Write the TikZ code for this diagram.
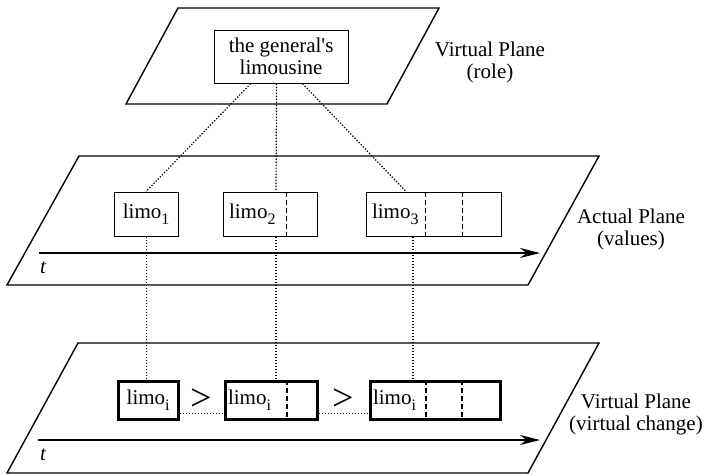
\documentclass[tikz,border=0pt]{standalone}
\usepackage{fontspec}
\setmainfont{Liberation Serif}[Ligatures=TeXOff]
\usetikzlibrary{positioning,calc,arrows.meta}
\tikzset{>={Stealth[length=20pt,width=10pt]}}
\tikzset{
  plane/.style={line width=1.4pt, line join=miter},
  cell/.style={draw, line width=1.2pt, inner sep=0pt, anchor=north west},
  vcell/.style={cell, line width=3.4pt},
  divider/.style={line width=1.2pt, dash pattern=on 5pt off 3pt},
  link/.style={line width=1.2pt, dash pattern=on 1.3pt off 1.7pt},
  tag/.style={font=\fontsize{21}{22}\selectfont, align=center, inner sep=0pt},
  word/.style={font=\fontsize{21}{22}\selectfont},
  order/.style={font=\fontsize{38}{38}\selectfont, inner sep=0pt},
  timeaxis/.style={->, line width=1.4pt},
}
\newcommand*{\limo}[1]{limo\raisebox{-6pt}{\fontsize{16}{16}\selectfont #1}}

\begin{document}
\begin{tikzpicture}[x=1pt,y=-1pt]
\useasboundingbox (0,0) rectangle (707,475);

% Draw the three planes
\draw[plane] (178,8) -- (439,8) -- (387,104) -- (126,104) -- cycle;
\draw[plane] (79,156) -- (599,156) -- (528,285) -- (7,285) -- cycle;
\draw[plane] (78,343) -- (599,343) -- (528,473) -- (7,473) -- cycle;

% Plane labels
\node[tag] (lrole) at (490,62) {Virtual Plane\\(role)};
\node[tag] (lvalues) at (631,229) {Actual Plane\\(values)};
\node[tag] (lchange) at (636,414) {Virtual Plane\\(virtual change)};

% Role box
\node[cell, minimum width=134pt, minimum height=53pt, word, align=center] (gen) at (213.5,29.5) {the general's\\limousine};

% Value boxes on the actual plane
\node[cell, minimum width=64pt, minimum height=44pt] (v1) at (113.5,191.5) {};
\node[cell, minimum width=94pt, minimum height=44pt] (v2) at (222.5,191.5) {};
\node[cell, minimum width=135pt, minimum height=44pt] (v3) at (365.5,191.5) {};
\node[word] (t1) at (v1.center) {\limo{1}};
\node[word, anchor=west] (t2) at ($(v2.west)+(3,0)$) {\limo{2}};
\node[word, anchor=west] (t3) at ($(v3.west)+(3,0)$) {\limo{3}};
\draw[divider] ($(v2.north west)+(64,0)$) -- ($(v2.south west)+(64,0)$);
\draw[divider] ($(v3.north west)+(60,0)$) -- ($(v3.south west)+(60,0)$);
\draw[divider] ($(v3.north west)+(97,0)$) -- ($(v3.south west)+(97,0)$);

% Boxes on the virtual change plane
\node[vcell, minimum width=60pt, minimum height=38pt] (w1) at (116.5,379.5) {};
\node[vcell, minimum width=92pt, minimum height=38pt] (w2) at (223.5,379.5) {};
\node[vcell, minimum width=130pt, minimum height=38pt] (w3) at (368.5,379.5) {};
\node[word] (s1) at (w1.center) {\limo{i}};
\node[word, anchor=west] (s2) at ($(w2.west)+(1,0)$) {\limo{i}};
\node[word, anchor=west] (s3) at ($(w3.west)+(1,0)$) {\limo{i}};
\draw[divider] ($(w2.north west)+(63.5,0)$) -- ($(w2.south west)+(63.5,0)$);
\draw[divider] ($(w3.north west)+(57.5,0)$) -- ($(w3.south west)+(57.5,0)$);
\draw[divider] ($(w3.north west)+(93.5,0)$) -- ($(w3.south west)+(93.5,0)$);

% Order signs and dotted joins between them
\node[order] (gt1) at ($(w1.east)!0.5!(w2.west)+(0,-1)$) {>};
\node[order] (gt2) at ($(w2.east)!0.5!(w3.west)+(0,-1)$) {>};
\draw[link] ([yshift=-13.5pt]w1.east) -- ([yshift=-13.5pt]w2.west);
\draw[link] ([yshift=-13.5pt]w2.east) -- ([yshift=-13.5pt]w3.west);

% Dotted links from the role down to the values
\draw[link] ($(gen.south)+(-30.5,0)$) -- (v1.north);
\draw[link] ($(gen.south)+(-4.5,0)$) -- ($(v2.north west)+(53.5,0)$);
\draw[link] ($(gen.south)+(21.5,0)$) -- ($(v3.north west)+(40.5,0)$);

% Dotted links from the values down to the virtual change
\draw[link] (v1.south) -- (v1.south |- w1.north);
\draw[link] ($(v2.south west)+(53.5,0)$) coordinate (d2) -- (d2 |- w2.north);
\draw[link] ($(v3.south west)+(47.5,0)$) coordinate (d3) -- (d3 |- w3.north);

% Time axes
\draw[timeaxis] (39,253) coordinate (a0) -- (540,253) coordinate (a1);
\node[word, font=\itshape\fontsize{21}{22}\selectfont] (tm) at (43,268) {t};
\draw[timeaxis] (38,440) coordinate (b0) -- (540,440) coordinate (b1);
\node[word, font=\itshape\fontsize{21}{22}\selectfont] (tb) at (43,455) {t};
\end{tikzpicture}
\end{document}
